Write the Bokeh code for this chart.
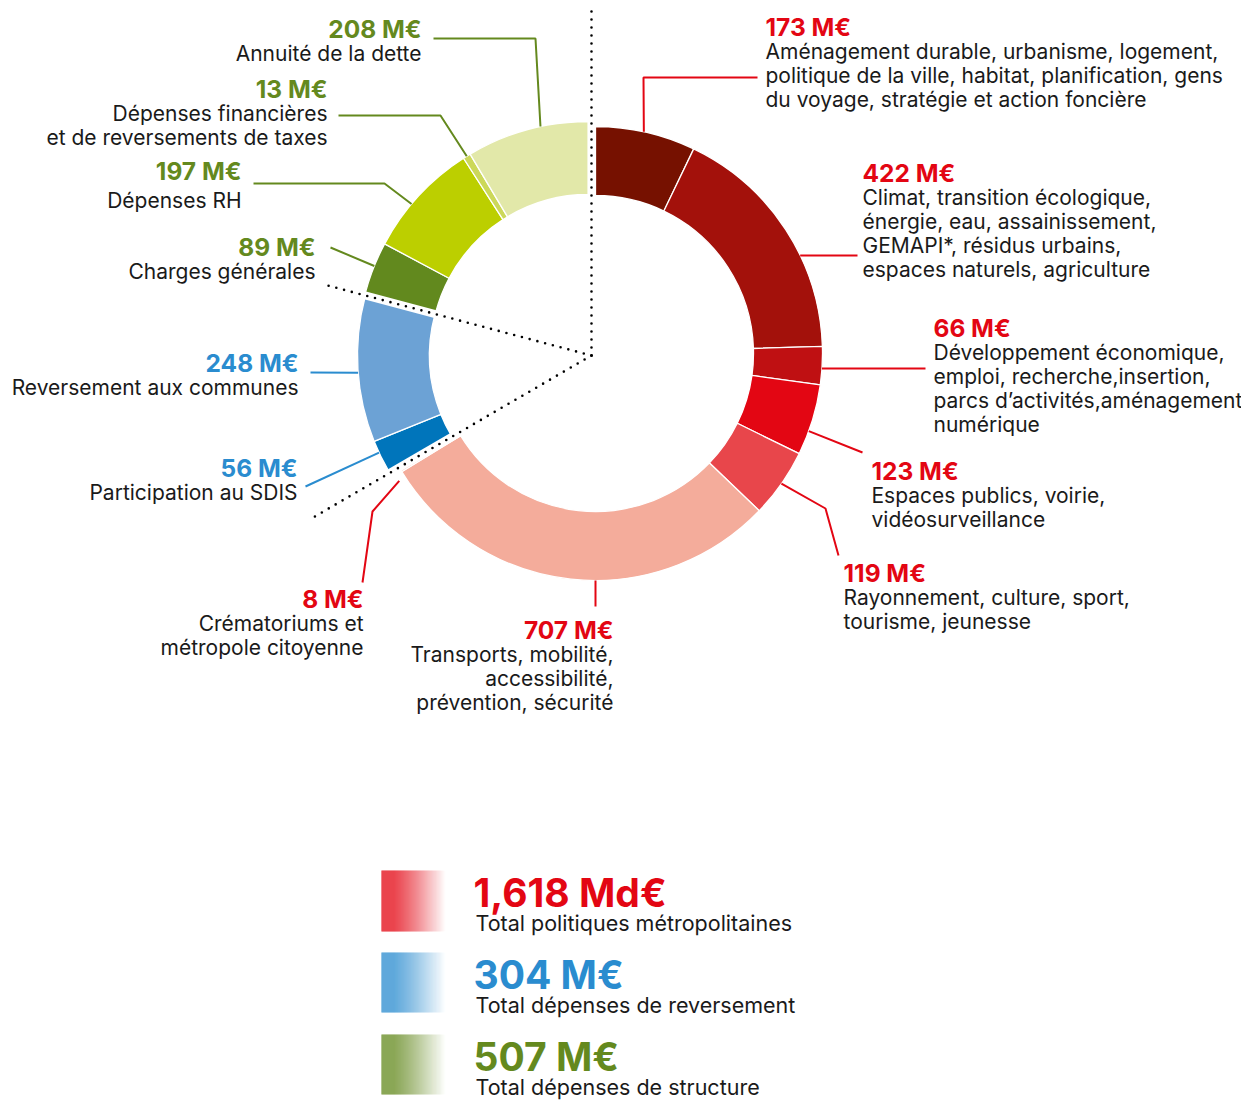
import math
from bokeh.plotting import figure
from bokeh.models import Range1d, ColumnDataSource
from bokeh.core.properties import value
from bokeh.embed import file_html
from bokeh.resources import INLINE

# ---------------- data ----------------
amounts = [173, 422, 66, 123, 119, 707, 8, 56, 248, 89, 197, 13, 208]
groups = ["pol", "pol", "pol", "pol", "pol", "pol", "pol", "rev", "rev", "str", "str", "str", "str"]
descriptions = [
    ["Aménagement durable, urbanisme, logement,", "politique de la ville, habitat, planification, gens", "du voyage, stratégie et action foncière"],
    ["Climat, transition écologique,", "énergie, eau, assainissement,", "GEMAPI*, résidus urbains,", "espaces naturels, agriculture"],
    ["Développement économique,", "emploi, recherche,insertion,", "parcs d’activités,aménagement", "numérique"],
    ["Espaces publics, voirie,", "vidéosurveillance"],
    ["Rayonnement, culture, sport,", "tourisme, jeunesse"],
    ["Transports, mobilité,", "accessibilité,", "prévention, sécurité"],
    ["Crématoriums et", "métropole citoyenne"],
    ["Participation au SDIS"],
    ["Reversement aux communes"],
    ["Charges générales"],
    ["Dépenses RH"],
    ["Dépenses financières", "et de reversements de taxes"],
    ["Annuité de la dette"],
]
group_keys = ["pol", "rev", "str"]
group_titles = ["Total politiques métropolitaines", "Total dépenses de reversement", "Total dépenses de structure"]

# ---------------- style / layout ----------------
seg_colors = ["#761100", "#a3110b", "#bf1012", "#e30613", "#e8464b", "#f4ac9b", "#f9cfc5",
              "#0075bb", "#6ca2d5", "#62891e", "#bccf00", "#ccd85a", "#e2e8a9"]
group_color = {"pol": "#e30613", "rev": "#2a8ccf", "str": "#64891e"}
BASE = (591.0, 355.0)
offsets = {"pol": (4.0, -2.0), "rev": (-4.0, 0.0), "str": (-3.0, -3.0)}
R_OUT = {"pol": 227.0, "rev": 230.0, "str": 231.0}
R_IN = 158.0
FONT = "Inter"

# label layout: (align, x, value_y, [desc y...])
label_layout = [
    ("left", 765, 26, [51, 75, 99]),
    ("left", 862, 172, [197, 221, 245, 269]),
    ("left", 933, 327, [352, 376, 400, 424]),
    ("left", 871, 470, [495, 519]),
    ("left", 843, 572, [597, 621]),
    ("right", 613, 629, [654, 678, 702]),
    ("right", 363, 598, [623, 647]),
    ("right", 297, 467, [492]),
    ("right", 298, 362, [387]),
    ("right", 315, 246, [271]),
    ("right", 241, 170, [200]),
    ("right", 327, 88, [113, 137]),
    ("right", 421, 28, [53]),
]
# leader: (attach angle clockwise from top, extra radius, waypoints)
leader_layout = [
    (12.3, 0, [(643, 77), (757, 77)]),
    (64.4, 0, [(857, 255)]),
    (93.8, 0, [(925, 368)]),
    (110, 0, [(862, 452)]),
    (125, 0, [(825, 508), (838, 555)]),
    (180, 0, [(595, 606)]),
    (237, 7, [(372, 511), (362, 582)]),
    (245, 0, [(305, 486)]),
    (265.7, 0, [(310, 372)]),
    (292, 0, [(330, 247)]),
    (310, 0, [(384, 183), (253, 183)]),
    (328.2, 0, [(440, 115), (338, 115)]),
    (348, 0, [(535, 38), (433, 38)]),
]
dot_lengths = [345, 328, 273]  # boundary rays: top, red/blue, blue/green
legend_rows = [(870, 931), (952, 1012), (1034, 1094)]


def pt(c, r, theta):
    t = math.radians(theta)
    return c[0] + r * math.sin(t), c[1] - r * math.cos(t)


p = figure(width=1241, height=1104, x_range=Range1d(0, 1241), y_range=Range1d(-1104, 0),
           output_backend="svg", toolbar_location=None, min_border=0)
p.axis.visible = False
p.grid.visible = False
p.outline_line_color = None
p.background_fill_color = "white"

total = sum(amounts)
cum = 0.0
wx, wy, ws, we, wc, wro = [], [], [], [], [], []
for a, g, c in zip(amounts, groups, seg_colors):
    t1 = cum / total * 360.0
    cum += a
    t2 = cum / total * 360.0
    cx = BASE[0] + offsets[g][0]
    cy = BASE[1] + offsets[g][1]
    wx.append(cx); wy.append(-cy)
    ws.append(math.radians(90 - t1)); we.append(math.radians(90 - t2))
    wc.append(c); wro.append(R_OUT[g])

src = ColumnDataSource(dict(x=wx, y=wy, s=ws, e=we, c=wc, ro=wro))
p.annular_wedge(x="x", y="y", inner_radius=R_IN, outer_radius="ro", start_angle="s", end_angle="e",
                direction="clock", fill_color="c", line_color="white", line_width=1.3, source=src)

# group boundaries
bounds = []
cum = 0.0
for k in group_keys:
    bounds.append(cum / total * 360.0)
    cum += sum(a for a, g in zip(amounts, groups) if g == k)
gx, gy = [], []
for b in bounds:
    x1, y1 = pt(BASE, R_IN - 10, b)
    x2, y2 = pt(BASE, 245, b)
    gx.append([x1, x2]); gy.append([-y1, -y2])
p.multi_line(xs=gx, ys=gy, line_color="white", line_width=8)
dx, dy = [], []
for b, L in zip(bounds, dot_lengths):
    x2, y2 = pt(BASE, L, b)
    dx.append([BASE[0], x2]); dy.append([-BASE[1], -y2])
p.multi_line(xs=dx, ys=dy, line_color="black", line_width=2.6, line_dash="0 8", line_cap="round")

# leaders
lx, ly, lc = [], [], []
for (th, dr, wps), g in zip(leader_layout, groups):
    c = (BASE[0] + offsets[g][0], BASE[1] + offsets[g][1])
    sx, sy = pt(c, R_OUT[g] + dr, th)
    lx.append([sx] + [w[0] for w in wps])
    ly.append([-sy] + [-w[1] for w in wps])
    lc.append(group_color[g])
p.multi_line(xs=lx, ys=ly, line_color=lc, line_width=2)

# labels
for align in ("left", "right"):
    vx, vy, vt, vc = [], [], [], []
    tx, ty, tt = [], [], []
    for a, g, desc, lay in zip(amounts, groups, descriptions, label_layout):
        al, x, yv, ys = lay
        if al != align:
            continue
        vx.append(x); vy.append(-yv); vt.append(f"{a} M€"); vc.append(group_color[g])
        for line, yy in zip(desc, ys):
            tx.append(x); ty.append(-yy); tt.append(line)
    p.text(x=vx, y=vy, text=vt, text_color=vc, text_font=value(FONT), text_font_style="bold",
           text_font_size="24.5px", text_align=align, text_baseline="middle")
    p.text(x=tx, y=ty, text=tt, text_color="#1a1a1a", text_font=value(FONT),
           text_font_size="21px", text_align=align, text_baseline="middle")

# legend with gradient swatches
for k, title, (top, bot) in zip(group_keys, group_titles, legend_rows):
    s = sum(a for a, g in zip(amounts, groups) if g == k)
    if s >= 1000:
        big = f"{s / 1000:.3f}".replace(".", ",") + " Md€"
    else:
        big = f"{s} M€"
    n = 64
    left = [381 + i for i in range(n)]
    right = [382 + i for i in range(n)]
    alphas = [1.0 if i < 12 else max(0.0, 1 - (i - 12) / 52.0) ** 1.1 for i in range(n)]
    p.quad(left=left, right=right, top=[-top] * n, bottom=[-bot] * n,
           fill_color=group_color[k], fill_alpha=alphas, line_color=None)
    p.text(x=[473], y=[-(top + 22)], text=[big], text_color=group_color[k], text_font=value(FONT),
           text_font_style="bold", text_font_size="39px", text_align="left", text_baseline="middle")
    p.text(x=[475], y=[-(top + 52)], text=[title], text_color="#1a1a1a", text_font=value(FONT),
           text_font_size="21.5px", text_align="left", text_baseline="middle")

open("out.html", "w").write(file_html(p, INLINE))
